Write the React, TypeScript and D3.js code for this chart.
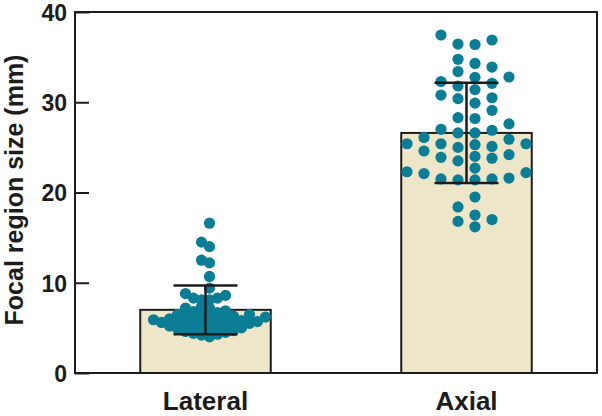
import React, { useEffect, useRef } from "react";
import * as d3 from "d3";

const categories = ["Lateral", "Axial"];
const barMeans = [7.0, 26.6];
const barSds = [2.7, 5.55];
const yTicks = [0, 10, 20, 30, 40];

const lateralValues = [
  16.6, 14.5, 14.0, 12.5, 12.2, 10.7, 9.4, 8.8, 8.6, 8.3, 8.1, 8.3, 8.1, 7.2, 7.2, 7.35,
  6.9, 6.8, 6.7, 6.6, 6.5, 6.5, 6.4, 6.3, 6.2, 6.2, 6.1, 6.0, 6.0, 5.9, 5.9, 5.8, 5.8,
  5.7, 5.7, 5.6, 5.6, 5.5, 5.5, 5.4, 5.3, 5.2, 5.2, 5.1, 5.0, 5.0, 4.9, 4.8, 4.7, 4.6,
  4.5, 4.4, 4.3, 4.2, 4.0,
];

const axialValues = [
  37.45, 36.4, 36.45, 36.9, 34.76, 34.3, 33.9, 33.4, 32.8, 32.76, 32.1, 32.3, 31.8, 31.4,
  30.8, 30.5, 30.4, 29.9, 29.1, 28.2, 28.3, 27.6, 26.6, 26.9, 26.6, 27.0, 26.1, 25.0, 25.1,
  25.4, 25.3, 25.4, 25.4, 25.9, 24.6, 24.2, 23.9, 24.0, 23.5, 23.8, 22.7, 22.2, 21.6, 21.4,
  21.4, 21.5, 21.5, 22.1, 22.3, 19.5, 18.4, 17.5, 16.2, 16.8, 17.0,
];

const W = 602;
const H = 416;
const margin = { top: 12, right: 5, bottom: 43, left: 75 };
const font = "'Liberation Sans', Arial, sans-serif";
const ink = "#1c1c1c";

// greedy swarm on a column grid, overlap allowed up to minDist
function swarm(vals: number[], y: (v: number) => number, step: number, minDist: number, maxOff: number) {
  const order = vals.map((v, i) => i).sort((a, b) => vals[a] - vals[b]);
  const placed: { x: number; y: number }[] = [];
  const out: { x: number; y: number }[] = new Array(vals.length);
  const cands: number[] = [];
  for (let k = 0; (k + 0.5) * step <= maxOff; k++) {
    cands.push((k + 0.5) * step, -(k + 0.5) * step);
  }
  order.forEach((i, n) => {
    const py = y(vals[i]);
    let best = cands[(n * 5) % cands.length];
    for (const cx of cands) {
      const ok = placed.every((p) => Math.hypot(p.x - cx, p.y - py) >= minDist);
      if (ok) { best = cx; break; }
    }
    const p = { x: best, y: py };
    placed.push(p);
    out[i] = p;
  });
  return out;
}

export default function App() {
  const ref = useRef<SVGSVGElement>(null);

  useEffect(() => {
    const svg = d3.select(ref.current);
    svg.selectAll("*").remove();

    const x = d3.scaleBand()
      .domain(categories)
      .range([margin.left, W - margin.right])
      .paddingInner(0.5)
      .paddingOuter(0.25);

    const y = d3.scaleLinear()
      .domain([0, 40])
      .range([H - margin.bottom, margin.top]);

    // bars
    svg.append("g")
      .selectAll("rect")
      .data(categories)
      .join("rect")
      .attr("x", d => x(d)!)
      .attr("width", x.bandwidth())
      .attr("y", (d, i) => y(barMeans[i]))
      .attr("height", (d, i) => y(0) - y(barMeans[i]))
      .attr("fill", "#eee6c9")
      .attr("stroke", ink)
      .attr("stroke-width", 2);

    // dots
    const groups = [
      { cat: "Lateral", vals: lateralValues, step: 8, min: 6.5, max: 62 },
      { cat: "Axial", vals: axialValues, step: 17, min: 11, max: 62 },
    ];
    groups.forEach(g => {
      const cx = x(g.cat)! + x.bandwidth() / 2;
      const pts = swarm(g.vals, y, g.step, g.min, g.max);
      svg.append("g")
        .selectAll("circle")
        .data(pts)
        .join("circle")
        .attr("cx", d => cx + d.x)
        .attr("cy", d => d.y)
        .attr("r", 5.6)
        .attr("fill", "#0b7d95");
    });

    // error bars
    const capW = 64;
    categories.forEach((c, i) => {
      const cx = x(c)! + x.bandwidth() / 2;
      const lo = y(barMeans[i] - barSds[i]);
      const hi = y(barMeans[i] + barSds[i]);
      const g = svg.append("g").attr("stroke", ink).attr("stroke-width", 2.5);
      g.append("line").attr("x1", cx).attr("x2", cx).attr("y1", lo).attr("y2", hi);
      g.append("line").attr("x1", cx - capW / 2).attr("x2", cx + capW / 2).attr("y1", hi).attr("y2", hi);
      g.append("line").attr("x1", cx - capW / 2).attr("x2", cx + capW / 2).attr("y1", lo).attr("y2", lo);
    });

    // frame
    svg.append("rect")
      .attr("x", margin.left)
      .attr("y", margin.top)
      .attr("width", W - margin.right - margin.left)
      .attr("height", H - margin.bottom - margin.top)
      .attr("fill", "none")
      .attr("stroke", ink)
      .attr("stroke-width", 2);

    // y axis
    const yAxis = svg.append("g")
      .attr("transform", `translate(${margin.left},0)`)
      .call(d3.axisRight(y).tickValues(yTicks).tickSize(14).tickFormat(d3.format("d")));
    yAxis.select(".domain").remove();
    yAxis.selectAll(".tick line").attr("stroke", ink).attr("stroke-width", 2);
    yAxis.selectAll(".tick text")
      .attr("x", -8)
      .attr("dy", "0.36em")
      .attr("text-anchor", "end")
      .attr("font-family", font)
      .attr("font-weight", "bold")
      .attr("font-size", 23)
      .attr("fill", ink);

    // x labels
    svg.append("g")
      .selectAll("text")
      .data(categories)
      .join("text")
      .attr("x", d => x(d)! + x.bandwidth() / 2)
      .attr("y", 410)
      .attr("text-anchor", "middle")
      .attr("font-family", font)
      .attr("font-weight", "bold")
      .attr("font-size", 26)
      .attr("fill", ink)
      .text(d => d);

    // y title
    svg.append("text")
      .attr("transform", `translate(23,190) rotate(-90)`)
      .attr("text-anchor", "middle")
      .attr("font-family", font)
      .attr("font-weight", "bold")
      .attr("font-size", 25)
      .attr("fill", ink)
      .text("Focal region size (mm)");
  }, []);

  return (
    <svg
      ref={ref}
      width={W}
      height={H}
      style={{ position: "absolute", left: 0, top: 0, background: "#fff" }}
    />
  );
}
